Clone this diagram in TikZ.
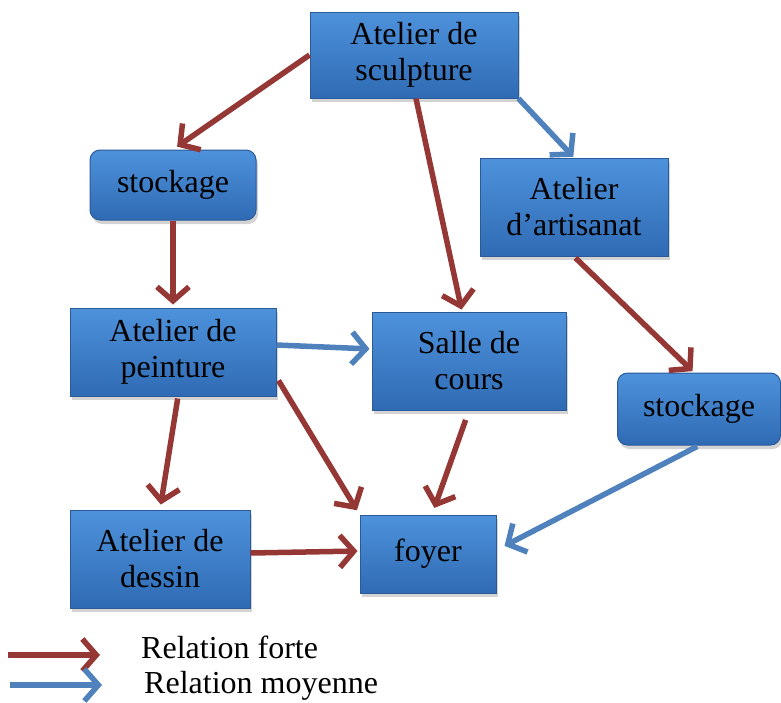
\documentclass[tikz,border=0pt]{standalone}
\usepackage{fontspec}
\setmainfont{Liberation Serif}
\usetikzlibrary{arrows.meta,shadows,calc}
\definecolor{boxtop}{HTML}{4E92DC}
\definecolor{boxbot}{HTML}{2F6BB4}
\definecolor{boxedge}{HTML}{2A5A98}
\definecolor{strong}{HTML}{953735}
\definecolor{medium}{HTML}{4F81BD}
\tikzset{
  box/.style={draw=boxedge, line width=1pt, top color=boxtop, bottom color=boxbot,
    drop shadow={shadow xshift=2pt, shadow yshift=-4pt, opacity=0.35},
    align=center, inner sep=0pt, font=\fontsize{32}{36}\selectfont, text=black},
  roundbox/.style={box, rounded corners=10pt},
  forte/.style={draw=strong, line width=5.5pt, -{Straight Barb[length=14pt,width=32pt,line width=5.5pt]}},
  moyenne/.style={draw=medium, line width=5.5pt, -{Straight Barb[length=14pt,width=32pt,line width=5.5pt]}},
  legtext/.style={anchor=west, font=\fontsize{32}{36}\selectfont, inner sep=0pt}
}
\begin{document}
\begin{tikzpicture}[x=1pt,y=-1pt]
\useasboundingbox (0,0) rectangle (781,702);
\node[box, minimum width=208pt, minimum height=86pt] (sc) at (414,55) {Atelier de\\sculpture};
\node[roundbox, minimum width=166pt, minimum height=70pt] (st1) at (173,185) {stockage};
\node[box, minimum width=188pt, minimum height=98pt] (ar) at (574,207) {Atelier\\d’artisanat};
\node[box, minimum width=206pt, minimum height=88pt] (pe) at (173,352) {Atelier de\\peinture};
\node[box, minimum width=194pt, minimum height=98pt] (sa) at (469,361) {Salle de\\cours};
\node[roundbox, minimum width=163pt, minimum height=72pt] (st2) at (699,409) {stockage};
\node[box, minimum width=180pt, minimum height=98pt] (de) at (160,559) {Atelier de\\dessin};
\node[box, minimum width=136pt, minimum height=78pt] (fo) at (428,554) {foyer};

\draw[forte, shorten >=5pt] (sc.west) -- (st1.north);
\draw[forte, shorten >=3pt] (st1.south) -- (pe.north);
\draw[forte, shorten >=2pt] ($(sc.south)+(2,0)$) -- ($(sa.north)+(-7,0)$);
\draw[moyenne, shorten >=1pt] (sc.south east) -- (ar.north);
\draw[forte, shorten <=2pt, shorten >=2pt] (ar.south) -- ($(st2.north)+(-5,0)$);
\draw[moyenne, shorten >=2pt] ($(pe.east)+(0,-7)$) -- ($(sa.west)+(0,-12)$);
\draw[forte, shorten <=2pt, shorten >=5pt] ($(pe.south)+(5,0)$) -- (de.north);
\draw[forte, shorten >=5pt] ($(pe.south east)+(2,-16)$) -- (fo.north west);
\draw[forte, shorten <=10pt, shorten >=7pt] (sa.south) -- ($(fo.north)+(4,0)$);
\draw[moyenne, shorten <=2pt, shorten >=9pt] (st2.south) -- ($(fo.east)+(0,-4)$);
\draw[forte, shorten >=2pt] ($(de.east)+(0,-6)$) -- ($(fo.west)+(0,-3)$);

\coordinate (f1) at (8,655);
\coordinate (f2) at (100,655);
\coordinate (m1) at (10,685);
\coordinate (m2) at (102,685);
\draw[forte] (f1) -- (f2);
\draw[moyenne] (m1) -- (m2);
\node[legtext] (lf) at (141,647) {Relation forte};
\node[legtext] (lm) at (144,686) {Relation moyenne};
\end{tikzpicture}
\end{document}
